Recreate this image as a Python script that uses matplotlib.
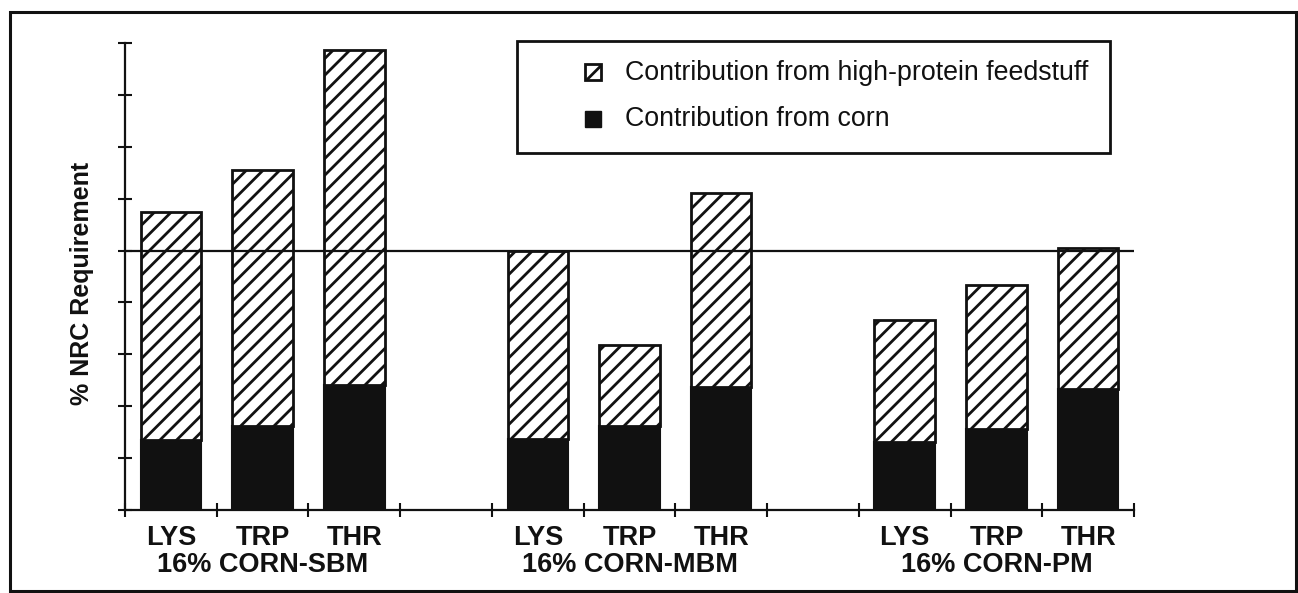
import matplotlib
matplotlib.use("Agg")
import matplotlib.pyplot as plt
from matplotlib.patches import Rectangle
from matplotlib.transforms import blended_transform_factory

plt.rcParams['font.family'] = ['Liberation Sans', 'DejaVu Sans']
plt.rcParams['hatch.linewidth'] = 2.0

# ---- data ----
amino_acids = ["LYS", "TRP", "THR"]
diets = ["16% CORN-SBM", "16% CORN-MBM", "16% CORN-PM"]
# % of NRC requirement, per diet: [LYS, TRP, THR]
corn_contrib = [[27.0, 32.4, 48.3],
                [27.4, 32.4, 47.5],
                [26.3, 31.3, 46.7]]
total_pct = [[114.7, 130.9, 177.2],
             [100.0, 63.7, 122.0],
             [73.4, 86.9, 100.8]]
legend_labels = ["Contribution from high-protein feedstuff", "Contribution from corn"]
y_label = "% NRC Requirement"
requirement_line = 100
y_ticks = list(range(0, 181, 20))

W, H = 1298, 593
fig = plt.figure(figsize=(W / 100, H / 100), dpi=100)
ax = fig.add_axes([125 / W, 1 - 510 / H, (1134 - 125) / W, (510 - 43) / H])

bar_w = 0.66
positions = []
for g in range(len(diets)):
    for i in range(len(amino_acids)):
        positions.append(g * 4 + i)

for g in range(len(diets)):
    xs = [g * 4 + i for i in range(3)]
    corn = corn_contrib[g]
    feed = [t - c for t, c in zip(total_pct[g], corn)]
    ax.bar(xs, corn, width=bar_w, color='#111111', edgecolor='#111111', linewidth=1.5, zorder=2)
    ax.bar(xs, feed, bottom=corn, width=bar_w, color='white', edgecolor='#111111',
           hatch='//', linewidth=2.0, zorder=2)

ax.axhline(requirement_line, color='#111111', linewidth=1.6, zorder=5)

ax.set_xlim(-0.5, 10.5)
ax.set_ylim(0, 180)
for s in ['top', 'right']:
    ax.spines[s].set_visible(False)
for s in ['left', 'bottom']:
    ax.spines[s].set_linewidth(1.6)
    ax.spines[s].set_color('#111111')
    ax.spines[s].set_zorder(6)

ax.set_yticks(y_ticks)
ax.set_yticklabels([])
ax.tick_params(axis='y', direction='inout', length=10, width=1.5, color='#111111')

ax.set_xticks(positions)
ax.set_xticklabels(amino_acids * len(diets), fontsize=19.5, fontweight='bold', color='#111111')
ax.tick_params(axis='x', which='major', length=0, pad=11)
ax.set_xticks([b - 0.5 for b in range(12)], minor=True)
ax.tick_params(axis='x', which='minor', direction='inout', length=10, width=1.5, color='#111111')

trans = blended_transform_factory(ax.transData, ax.transAxes)
for g, name in enumerate(diets):
    ax.text(g * 4 + 1, -(565 - 510) / (510 - 43), name, transform=trans, ha='center', va='center',
            fontsize=19.5, fontweight='bold', color='#111111')

fig.text(82 / W, 1 - 283 / H, y_label, rotation=90, ha='center', va='center',
         fontsize=18, fontweight='bold', color='#111111')

# legend box
def fx(x):
    return x / W

def fy(y):
    return 1 - y / H

fig.patches.append(Rectangle((fx(517), fy(153)), fx(1110) - fx(517), fy(41) - fy(153),
                             transform=fig.transFigure, facecolor='white', edgecolor='#111111',
                             linewidth=2.0, zorder=10))
fig.patches.append(Rectangle((fx(585), fy(80)), fx(601) - fx(585), fy(64) - fy(80),
                             transform=fig.transFigure, facecolor='white', edgecolor='#111111',
                             hatch='/', linewidth=2.0, zorder=11))
fig.patches.append(Rectangle((fx(585), fy(127)), fx(601) - fx(585), fy(111) - fy(127),
                             transform=fig.transFigure, facecolor='#111111', edgecolor='#111111',
                             linewidth=1.0, zorder=11))
fig.text(fx(625), fy(73), legend_labels[0], ha='left', va='center', fontsize=19.3,
         color='#111111', zorder=12)
fig.text(fx(625), fy(119), legend_labels[1], ha='left', va='center', fontsize=19.3,
         color='#111111', zorder=12)

# outer frame
fig.patches.append(Rectangle((fx(10), fy(591)), fx(1296) - fx(10), fy(12) - fy(591),
                             transform=fig.transFigure, facecolor='none', edgecolor='#111111',
                             linewidth=2.2, zorder=0))

fig.savefig("out.png", dpi=100)
